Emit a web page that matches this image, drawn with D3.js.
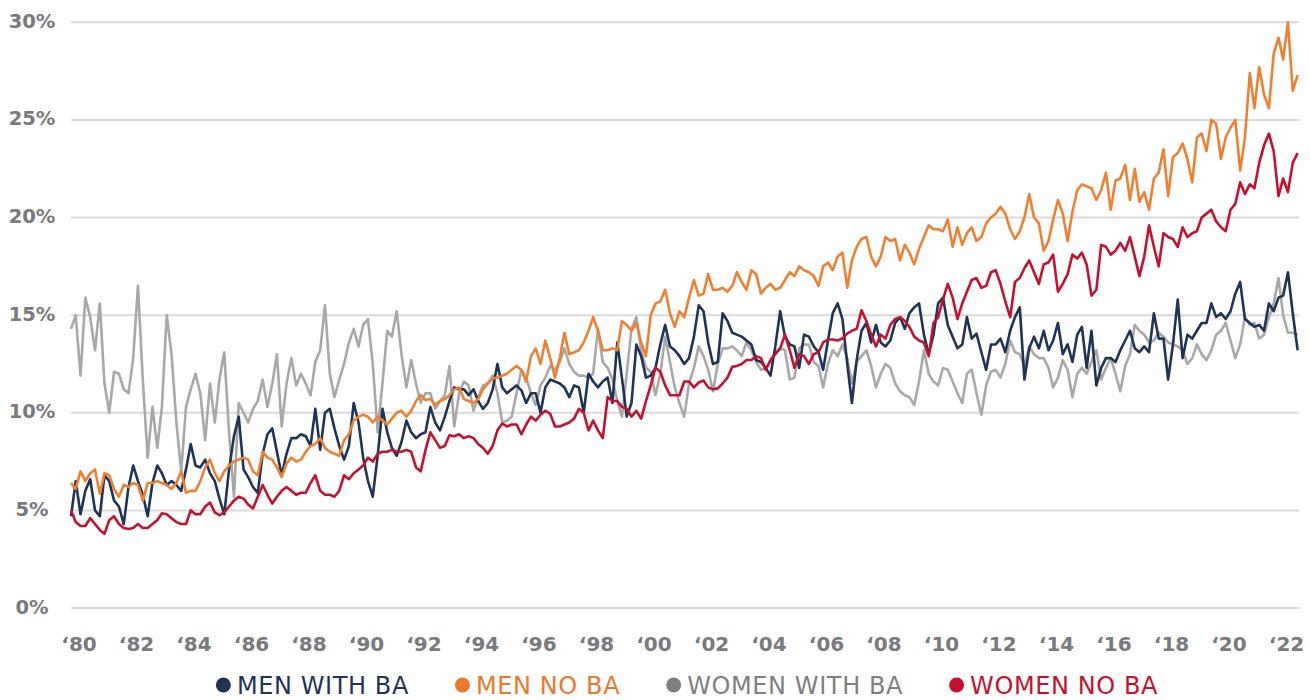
<!DOCTYPE html>
<html>
<head>
<meta charset="utf-8">
<script src="https://cdn.jsdelivr.net/npm/d3@7"></script>
<style>
  body { margin: 0; background: #fff; }
  svg { display: block; }
  .tick-label { font-family: "DejaVu Sans", sans-serif; font-weight: bold; fill: #797a7d; }
  .legend-label { font-family: "DejaVu Sans", sans-serif; letter-spacing: 0.6px; }
</style>
</head>
<body>
<div id="chart"></div>
<script>
// bimonthly readings, Jan 1980 .. Sep 2022 (one row per year)
var menWithBA = [
  4.7, 6.5, 4.8, 6.0, 6.6, 5.0,
  4.7, 6.8, 6.5, 5.5, 5.2, 4.3,
  6.2, 7.3, 6.5, 5.8, 4.7, 6.4,
  7.3, 6.9, 6.3, 6.5, 6.3, 6.0,
  7.1, 8.4, 7.3, 7.2, 7.6, 6.9,
  6.5, 5.6, 4.8, 7.1, 8.8, 9.8,
  7.1, 6.7, 6.2, 5.9, 7.9, 8.9,
  9.2, 8.0, 6.8, 7.9, 8.7, 8.7,
  8.9, 8.8, 8.3, 10.2, 8.1, 10.0,
  10.2, 9.2, 8.3, 7.6, 8.3, 10.5,
  9.5, 7.7, 6.5, 5.7, 7.8, 10.2,
  9.0, 8.2, 7.8, 8.5, 9.6, 9.0,
  8.7, 8.9, 9.0, 10.3, 9.5, 9.1,
  9.8, 10.6, 11.3, 11.2, 11.2, 10.9,
  11.2, 10.6, 10.2, 10.5, 11.2, 12.5,
  11.3, 11.0, 11.2, 11.4, 11.15, 10.5,
  11.0, 11.0, 10.0, 11.3, 11.7, 11.6,
  11.5, 11.3, 10.8, 11.4, 11.3, 10.0,
  12.0, 11.6, 11.3, 11.6, 11.8, 10.5,
  13.6, 11.8, 9.8, 10.5, 13.5, 12.9,
  11.8, 11.9, 12.3, 13.5, 14.5, 13.4,
  13.2, 12.9, 12.5, 12.8, 13.9, 15.5,
  15.2, 13.6, 12.5, 12.6, 15.1, 14.7,
  14.1, 14.0, 13.9, 13.7, 13.5, 12.7,
  12.6, 12.3, 11.9, 13.4, 15.2, 13.9,
  13.5, 13.4, 12.3, 14.0, 13.9, 13.4,
  13.1, 12.2, 13.7, 15.1, 15.6, 14.8,
  12.5, 10.5, 12.7, 14.2, 14.6, 13.6,
  14.5, 13.6, 13.4, 13.7, 14.6, 14.9,
  14.3, 15.1, 15.4, 15.6, 14.0, 13.0,
  14.0, 15.6, 15.9, 14.5, 13.9, 13.3,
  13.5, 14.9, 13.8, 14.05, 13.1, 12.2,
  13.5, 13.5, 13.8, 13.1, 14.2, 14.9,
  15.4, 11.7, 13.3, 13.9, 13.3, 14.2,
  13.2, 13.7, 14.6, 13.0, 13.5, 12.6,
  14.0, 14.4, 12.3, 14.2, 11.4, 12.3,
  12.8, 12.8, 12.6, 13.2, 13.7, 14.2,
  13.3, 13.1, 13.4, 13.1, 15.1, 13.8,
  13.8, 11.7, 13.5, 15.8, 12.8, 14.0,
  13.8, 14.2, 14.6, 14.6, 15.6, 14.9,
  15.1, 14.8, 15.2, 16.1, 16.7, 14.8,
  14.6, 14.4, 14.5, 14.2, 15.6, 15.2,
  15.9, 16.0, 17.2, 15.1, 13.2
];

var menNoBA = [
  6.4, 6.1, 7.0, 6.5, 6.9, 7.1,
  5.85, 6.9, 6.8, 6.1, 5.7, 6.3,
  6.2, 6.4, 6.3, 5.5, 6.4, 6.4,
  6.5, 6.4, 6.3, 6.1, 6.4, 7.0,
  5.9, 6.0, 6.0, 6.5, 7.2, 7.6,
  6.9, 6.5, 7.0, 7.3, 7.5, 7.6,
  7.7, 7.6, 7.0, 6.8, 8.0, 7.7,
  7.6, 7.2, 6.7, 7.4, 7.7, 7.5,
  7.6, 8.0, 8.3, 8.4, 8.7, 8.2,
  8.0, 7.9, 7.8, 8.6, 8.9, 9.6,
  9.8, 9.9, 9.8, 9.5, 9.8, 9.6,
  9.4, 9.7, 10.0, 10.1, 9.8, 10.1,
  10.6, 10.9, 10.65, 10.7, 10.4, 10.6,
  10.7, 10.9, 11.2, 11.3, 10.7, 10.6,
  10.5, 10.7, 11.2, 11.5, 11.75, 11.8,
  11.9, 12.0, 12.2, 12.4, 12.2, 11.6,
  12.9, 13.3, 12.5, 13.7, 12.8, 11.8,
  12.8, 14.1, 13.0, 13.1, 13.2, 13.6,
  14.2, 14.9, 14.2, 13.2, 13.2, 13.3,
  13.2, 14.7, 14.5, 14.2, 14.6, 13.6,
  12.9, 15.0, 15.6, 15.7, 16.3, 15.1,
  14.4, 15.2, 14.9, 15.9, 16.8, 16.0,
  16.1, 17.1, 16.3, 16.3, 16.4, 16.2,
  16.5, 17.2, 16.7, 16.3, 17.3, 17.1,
  16.1, 16.4, 16.6, 16.3, 16.4, 16.8,
  17.2, 17.0, 17.5, 17.3, 17.2, 17.0,
  16.5, 17.5, 17.7, 17.3, 18.0, 18.2,
  16.4, 17.8, 18.5, 18.9, 19.0, 18.0,
  17.5, 18.0, 19.0, 18.8, 18.9, 17.8,
  18.6, 18.2, 17.6, 18.4, 19.0, 19.6,
  19.4, 19.4, 19.3, 19.9, 18.5, 19.5,
  18.6, 19.2, 19.5, 18.8, 19.0, 19.7,
  20.0, 20.2, 20.55, 20.2, 19.4, 18.9,
  19.3, 20.0, 21.2, 20.0, 19.7, 18.3,
  18.8, 19.9, 20.9, 20.2, 18.8, 20.3,
  21.4, 21.7, 21.6, 21.5, 20.9, 21.4,
  22.3, 20.4, 21.9, 22.0, 22.7, 20.9,
  22.5, 20.8, 21.3, 20.4, 22.0, 22.3,
  23.5, 21.1, 23.1, 23.3, 23.8, 23.0,
  21.8, 24.1, 24.3, 23.4, 25.0, 24.8,
  23.0, 24.1, 24.6, 25.0, 22.4, 24.1,
  27.4, 25.6, 27.7, 26.3, 25.6, 28.4,
  29.2, 28.1, 30.0, 26.5, 27.3
];

var womenWithBA = [
  14.3, 15.0, 11.9, 15.9, 14.9, 13.2,
  15.6, 11.5, 10.0, 12.1, 12.0, 11.2,
  11.0, 12.8, 16.5, 11.7, 7.7, 10.3,
  8.2, 10.3, 15.0, 13.0, 9.5, 7.0,
  10.3, 11.2, 12.0, 11.0, 8.6, 11.5,
  9.5, 11.7, 13.1, 9.0, 5.7, 10.5,
  10.0, 9.5, 10.2, 10.6, 11.7, 10.3,
  11.5, 13.0, 9.3, 11.5, 12.8, 11.4,
  12.0, 11.5, 10.9, 12.6, 13.2, 15.5,
  12.0, 10.8, 11.7, 12.5, 13.6, 14.3,
  13.4, 14.5, 14.8, 12.5, 9.0, 11.5,
  14.2, 13.9, 15.2, 13.0, 11.3, 12.7,
  11.5, 10.5, 11.0, 11.0, 10.2, 10.6,
  10.9, 12.4, 9.3, 11.0, 11.6, 11.4,
  10.1, 10.8, 11.4, 11.5, 11.9, 11.0,
  9.5, 9.6, 9.8, 11.0, 12.2, 11.8,
  11.0, 10.4, 11.4, 11.8, 12.4, 12.2,
  12.6, 13.3, 12.5, 12.1, 11.9, 11.9,
  11.8, 12.0, 14.3, 12.6, 12.3, 11.7,
  10.6, 9.8, 12.0, 14.3, 14.9, 13.2,
  12.3, 12.1, 10.9, 12.0, 13.9, 12.6,
  11.3, 10.5, 9.8, 11.5, 12.3, 13.4,
  12.9, 12.2, 11.1, 12.5, 13.3, 13.3,
  13.4, 13.2, 12.9, 13.6, 13.2, 12.6,
  12.2, 12.3, 12.6, 13.1, 13.3, 13.2,
  11.7, 11.8, 13.3, 13.5, 13.5, 12.6,
  12.4, 11.3, 12.5, 13.2, 12.9, 13.5,
  12.8, 11.5, 12.6, 12.9, 13.2, 12.4,
  11.3, 12.0, 12.5, 12.3, 11.5, 11.1,
  10.9, 10.8, 10.4, 11.6, 13.2, 12.0,
  11.6, 11.4, 12.3, 12.2, 11.6, 11.0,
  10.5, 12.0, 12.2, 11.0, 9.9, 11.4,
  12.1, 12.2, 11.8, 12.5, 13.7, 13.1,
  13.0, 12.4, 13.4, 13.0, 12.8, 12.8,
  12.3, 11.3, 11.8, 12.7, 12.2, 10.8,
  12.0, 12.3, 12.0, 12.6, 13.2, 11.7,
  12.3, 12.8, 12.0, 11.1, 12.4, 13.0,
  14.5, 14.2, 14.0, 13.6, 13.7, 14.1,
  13.9, 13.6, 13.5, 13.4, 13.2, 12.5,
  12.8, 13.5, 13.0, 12.7, 13.2, 14.0,
  14.2, 14.6, 13.7, 12.8, 13.5, 14.9,
  14.5, 14.6, 13.8, 14.0, 14.9, 15.6,
  16.9, 15.0, 14.1, 14.1, 14.0
];

var womenNoBA = [
  5.0, 4.4, 4.2, 4.2, 4.6, 4.3,
  4.0, 3.8, 4.5, 4.7, 4.3, 4.1,
  4.05, 4.1, 4.3, 4.1, 4.1, 4.3,
  4.5, 4.85, 4.8, 4.6, 4.4, 4.3,
  4.3, 5.0, 4.8, 4.8, 5.2, 5.4,
  4.9, 4.75, 4.9, 5.2, 5.5, 5.7,
  5.6, 5.3, 5.1, 5.7, 6.3, 5.8,
  5.35, 5.7, 6.0, 6.2, 6.0, 5.8,
  5.9, 5.9, 6.4, 6.8, 6.0, 5.8,
  5.8, 5.7, 6.0, 6.8, 6.6, 6.9,
  7.1, 7.3, 7.7, 7.5, 7.9, 8.0,
  8.0, 8.1, 8.0, 8.0, 8.1, 8.0,
  7.2, 7.0, 8.1, 9.0, 8.6, 8.2,
  8.3, 8.85, 8.8, 8.9, 8.7, 8.8,
  8.7, 8.4, 8.2, 7.9, 8.3, 9.1,
  9.45, 9.3, 9.4, 9.4, 8.9, 9.4,
  9.8, 9.6, 9.9, 10.1, 9.95, 9.3,
  9.3, 9.4, 9.5, 9.7, 10.2, 10.0,
  9.1, 9.6, 9.1, 8.7, 10.8, 10.6,
  10.6, 10.3, 10.2, 9.8, 10.1, 9.7,
  10.6, 11.4, 12.3, 12.1, 11.4, 10.9,
  10.9, 10.9, 11.6, 11.6, 11.3, 11.55,
  11.65, 11.3, 11.2, 11.25, 11.5, 11.8,
  12.35, 12.4, 12.5, 12.7, 12.7, 12.9,
  12.8, 12.2, 12.7, 13.0, 13.3, 14.0,
  13.2, 12.3, 13.0, 12.9, 12.5, 13.0,
  13.1, 13.6, 13.75, 13.75, 13.7, 13.8,
  14.05, 14.2, 14.3, 15.25, 14.7, 14.0,
  13.4, 14.0, 13.8, 14.5, 14.8, 14.9,
  14.7, 14.4, 13.9, 13.7, 13.6, 12.9,
  14.6, 14.9, 15.8, 16.6, 15.9, 14.8,
  15.6, 16.2, 16.8, 16.9, 16.4, 16.5,
  17.2, 17.3, 16.6, 15.7, 14.9, 16.7,
  16.9, 17.4, 17.8, 17.2, 16.6, 17.6,
  17.7, 18.1, 16.2, 16.6, 17.1, 18.1,
  17.9, 18.2, 17.6, 16.0, 16.3, 18.6,
  18.5, 18.1, 18.3, 18.7, 18.3, 19.0,
  18.0, 17.0, 18.0, 19.6, 18.5, 17.5,
  19.2, 19.0, 18.9, 18.5, 19.5, 19.0,
  19.2, 19.3, 20.0, 20.2, 20.4, 19.8,
  19.5, 19.3, 20.4, 20.7, 21.8, 21.2,
  21.7, 21.5, 22.8, 23.7, 24.3, 23.4,
  21.1, 22.0, 21.3, 22.8, 23.3
];

var seriesNames = ["MEN WITH BA", "MEN NO BA", "WOMEN WITH BA", "WOMEN NO BA"];
var seriesValues = [menWithBA, menNoBA, womenWithBA, womenNoBA];
var lineColors = ["#1f3354", "#ee8131", "#a8a8a8", "#c5112f"];
var legendColors = ["#1f3354", "#e9792b", "#7f7f81", "#c5112f"];

var yTicks = [0, 5, 10, 15, 20, 25, 30];
var xTickYears = d3.range(1980, 2023, 2);

var width = 1310, height = 700;

var svg = d3.select("#chart").append("svg")
    .attr("width", width)
    .attr("height", height);

// scales
var x = d3.scaleTime()
    .domain([new Date(1980, 0, 1), new Date(2022, 0, 1)])
    .range([71, 1278.5]);

var y = d3.scaleLinear()
    .domain([0, 30])
    .range([608, 22.3]);

// gridlines
svg.append("g")
    .selectAll("line")
    .data(yTicks)
    .enter()
    .append("line")
    .attr("x1", 71)
    .attr("x2", 1299)
    .attr("y1", d => y(d))
    .attr("y2", d => y(d))
    .attr("stroke", "#dadada")
    .attr("stroke-width", 2);

// y labels
svg.append("g")
    .selectAll("text")
    .data(yTicks)
    .enter()
    .append("text")
    .attr("class", "tick-label")
    .attr("x", 32)
    .attr("y", d => y(d) + 5.5)
    .attr("text-anchor", "middle")
    .style("font-size", "19.5px")
    .text(d => d + "%");

// x labels
svg.append("g")
    .selectAll("text")
    .data(xTickYears)
    .enter()
    .append("text")
    .attr("class", "tick-label")
    .attr("x", d => x(new Date(d, 0, 1)) + 8)
    .attr("y", 651)
    .attr("text-anchor", "middle")
    .style("font-size", "20px")
    .text(d => "\u2018" + String(d).slice(2));

// lines, gray first so the others sit on top
var line = d3.line()
    .x((d, i) => x(new Date(1980, 2 * i, 1)))
    .y(d => y(d));

var drawOrder = [2, 0, 1, 3];
drawOrder.forEach(function (k) {
    svg.append("path")
        .datum(seriesValues[k])
        .attr("fill", "none")
        .attr("stroke", lineColors[k])
        .attr("stroke-width", 2.6)
        .attr("stroke-linejoin", "round")
        .attr("d", line);
});

// legend (kept a few px off the bottom edge)
var legend = svg.append("g");
var cursor = 0;
seriesNames.forEach(function (name, i) {
    var item = legend.append("g").attr("transform", "translate(" + cursor + ",0)");
    item.append("circle")
        .attr("cx", 7.5)
        .attr("cy", 0)
        .attr("r", 7.5)
        .attr("fill", legendColors[i]);
    var label = item.append("text")
        .attr("class", "legend-label")
        .attr("x", 21)
        .attr("y", 8.6)
        .style("font-size", "24px")
        .attr("fill", legendColors[i])
        .text(name);
    cursor += 21 + label.node().getComputedTextLength() + 46;
});
var legendWidth = cursor - 46;
legend.attr("transform", "translate(" + (687 - legendWidth / 2) + ",685)");
</script>
</body>
</html>
